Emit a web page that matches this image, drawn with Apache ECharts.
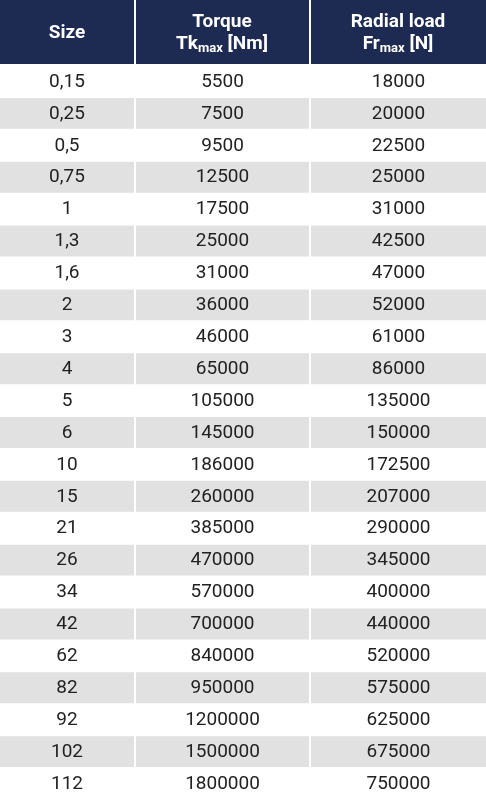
<!DOCTYPE html>
<html>
<head>
<meta charset="utf-8">
<script src="https://cdn.jsdelivr.net/npm/echarts@6/dist/echarts.min.js"></script>
<style>html,body{margin:0;padding:0;background:#fff}#chart{width:486px;height:800px}</style>
</head>
<body>
<div id="chart"></div>
<script>
const sizes = ["0,15","0,25","0,5","0,75","1","1,3","1,6","2","3","4","5","6","10","15","21","26","34","42","62","82","92","102","112"];
const torque = [5500,7500,9500,12500,17500,25000,31000,36000,46000,65000,105000,145000,186000,260000,385000,470000,570000,700000,840000,950000,1200000,1500000,1800000];
const radialLoad = [18000,20000,22500,25000,31000,42500,47000,52000,61000,86000,135000,150000,172500,207000,290000,345000,400000,440000,520000,575000,625000,675000,750000];

const FONT = '"Liberation Sans Narrow", "Roboto", sans-serif';
const NAVY = "#1d2a52";
const cols = [[0, 134], [136, 309], [311, 486]];

const chart = echarts.init(document.getElementById("chart"));

function renderRow(params, api) {
  const idx = api.value(0);
  const center = api.coord([0, idx]);
  const h = api.size([0, 1])[1];
  const y = center[1] - h / 2;
  const fill = idx % 2 === 1 ? "#e1e1e1" : "#ffffff";
  const texts = [sizes[idx], String(torque[idx]), String(radialLoad[idx])];
  const children = [];
  cols.forEach(([x0, x1], c) => {
    children.push({
      type: "rect",
      shape: { x: x0, y: y, width: x1 - x0, height: h - 1 },
      style: { fill: fill },
    });
    children.push({
      type: "text",
      style: {
        x: (x0 + x1) / 2, y: y + h / 2,
        text: texts[c], fill: "#222", font: "19px " + FONT,
        align: "center", verticalAlign: "middle",
      },
    });
  });
  return { type: "group", children: children };
}

const headerStyle = (text, rich) => ({
  text, fill: "#fff", align: "center", verticalAlign: "middle",
  font: "bold 19px " + FONT, rich,
});
const rich = {
  b: { fill: "#fff", font: "bold 19px " + FONT, lineHeight: 22 },
  s: { fill: "#fff", font: "bold 13px " + FONT, lineHeight: 22, verticalAlign: "bottom" },
};

chart.setOption({
  animation: false,
  grid: { left: 0, right: 0, top: 66, bottom: 0 },
  xAxis: { type: "value", min: 0, max: 486, show: false },
  yAxis: { type: "category", data: sizes, inverse: true, show: false },
  graphic: [
    { type: "rect", shape: { x: 0, y: 0, width: 134, height: 64 }, style: { fill: NAVY } },
    { type: "rect", shape: { x: 136, y: 0, width: 173, height: 64 }, style: { fill: NAVY } },
    { type: "rect", shape: { x: 311, y: 0, width: 175, height: 64 }, style: { fill: NAVY } },
    { type: "text", style: Object.assign(headerStyle("Size"), { x: 67, y: 33 }) },
    { type: "text", style: Object.assign(headerStyle("{b|Torque}\n{b|Tk}{s|max}{b| [Nm]}", rich), { x: 222, y: 33 }) },
    { type: "text", style: Object.assign(headerStyle("{b|Radial load}\n{b|Fr}{s|max}{b| [N]}", rich), { x: 398, y: 33 }) },
  ],
  series: [{
    type: "custom",
    renderItem: renderRow,
    data: sizes.map((s, i) => [i]),
    encode: { y: 0 },
  }],
});
</script>
</body>
</html>
